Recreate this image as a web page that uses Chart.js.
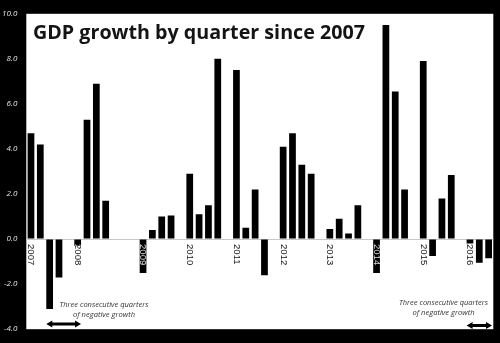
<!DOCTYPE html>
<html>
<head>
<meta charset="utf-8">
<script src="https://cdn.jsdelivr.net/npm/chart.js@4/dist/chart.umd.min.js"></script>
<style>
  html, body { margin: 0; padding: 0; background: #000; }
  canvas { display: block; }
</style>
</head>
<body>
<canvas id="gdpChart" width="500" height="343"></canvas>
<script>
// one slot per quarter, with empty slots between the years
const slotLabels = [
  "2007", "", "", "", "",
  "2008", "", "", "", "", "", "",
  "2009", "", "", "", "",
  "2010", "", "", "", "",
  "2011", "", "", "", "",
  "2012", "", "", "", "",
  "2013", "", "", "", "",
  "2014", "", "", "", "",
  "2015", "", "", "", "",
  "2016", "", "",
];
const growth = [
  4.7, 4.2, -3.1, -1.7, null,
  -0.3, 5.3, 6.9, 1.7, null, null, null,
  -1.5, 0.4, 1.0, 1.05, null,
  2.9, 1.1, 1.5, 8.0, null,
  7.5, 0.5, 2.2, -1.6, null,
  4.1, 4.7, 3.3, 2.9, null,
  0.45, 0.9, 0.25, 1.5, null,
  -1.5, 9.5, 6.55, 2.2, null,
  7.9, -0.75, 1.8, 2.85, null,
  -0.2, -1.05, -0.85,
];
const yTicks = [-4, -2, 0, 2, 4, 6, 8, 10];
const titleText = "GDP growth by quarter since 2007";
const noteLines = ["Three consecutive quarters", "of negative growth"];
// first and last slot of each negative run
const negativeRuns = [[2, 5], [47, 49]];

const backdrop = {
  id: "backdrop",
  beforeDraw(chart) {
    const { ctx, chartArea: a } = chart;
    ctx.save();
    ctx.fillStyle = "#000";
    ctx.fillRect(0, 0, chart.width, chart.height);
    ctx.fillStyle = "#fff";
    ctx.fillRect(a.left, a.top, a.right - a.left, a.bottom - a.top);
    ctx.restore();
  },
};

function arrow(ctx, x1, x2, y) {
  const h = 5;
  ctx.beginPath();
  ctx.moveTo(x1 + h, y);
  ctx.lineTo(x2 - h, y);
  ctx.lineWidth = 3;
  ctx.stroke();
  ctx.beginPath();
  ctx.moveTo(x1, y);
  ctx.lineTo(x1 + h + 1, y - 3.5);
  ctx.lineTo(x1 + h + 1, y + 3.5);
  ctx.closePath();
  ctx.moveTo(x2, y);
  ctx.lineTo(x2 - h - 1, y - 3.5);
  ctx.lineTo(x2 - h - 1, y + 3.5);
  ctx.closePath();
  ctx.fill();
}

const annotations = {
  id: "annotations",
  afterDatasetsDraw(chart) {
    const { ctx, scales } = chart;
    const x = scales.x, y = scales.y;
    const zero = y.getPixelForValue(0);
    const half = x.width / slotLabels.length * 0.36;

    // year labels, inverted where they cross a bar
    ctx.save();
    ctx.globalCompositeOperation = "difference";
    ctx.fillStyle = "#dcdcdc";
    ctx.font = '9.5px "Liberation Sans"';
    ctx.textAlign = "left";
    ctx.textBaseline = "middle";
    slotLabels.forEach((lab, i) => {
      if (!lab) return;
      ctx.save();
      ctx.translate(x.getPixelForValue(i), zero + 5);
      ctx.rotate(Math.PI / 2);
      ctx.fillText(lab, 0, 0);
      ctx.restore();
    });
    ctx.restore();

    // title
    ctx.save();
    ctx.fillStyle = "#141414";
    ctx.font = 'bold 20px "Open Sans"';
    ctx.textBaseline = "alphabetic";
    ctx.fillText(titleText, 33, 39, 332);
    ctx.restore();

    // notes and arrows
    ctx.save();
    ctx.fillStyle = "#333";
    ctx.strokeStyle = "#000";
    ctx.font = 'italic 8px "Open Sans"';
    ctx.textAlign = "center";
    const textPos = [[104, 307], [443.5, 305]];
    negativeRuns.forEach((run, k) => {
      const [tx, ty] = textPos[k];
      ctx.fillStyle = "#333";
      ctx.fillText(noteLines[0], tx, ty, 89);
      ctx.fillText(noteLines[1], tx, ty + 10, 62);
      ctx.fillStyle = "#000";
      const x1 = x.getPixelForValue(run[0]) - half;
      const x2 = x.getPixelForValue(run[1]) + half;
      arrow(ctx, x1, x2, k === 0 ? 324 : 325.5);
    });
    ctx.restore();
  },
};

new Chart(document.getElementById("gdpChart"), {
  type: "bar",
  data: {
    labels: slotLabels,
    datasets: [
      {
        data: growth,
        backgroundColor: "#000",
        borderWidth: 0,
        barPercentage: 0.72,
        categoryPercentage: 1,
      },
    ],
  },
  options: {
    responsive: false,
    animation: false,
    devicePixelRatio: 1,
    layout: { padding: { left: 0, top: 6, right: 6.7, bottom: 9.7 } },
    scales: {
      x: { display: false },
      y: {
        min: -4,
        max: 10,
        afterFit: (s) => { s.width = 26.3; },
        afterBuildTicks: (s) => { s.ticks = yTicks.map((v) => ({ value: v })); },
        ticks: {
          padding: 9,
          color: "#e6e6e6",
          font: { family: "Open Sans", size: 8, style: "italic" },
          callback: (v) => v.toFixed(1),
        },
        grid: {
          drawTicks: false,
          color: (c) => (c.tick && c.tick.value === 0 ? "#c8c8c8" : "rgba(0,0,0,0)"),
        },
        border: { display: false },
      },
    },
    plugins: {
      legend: { display: false },
      tooltip: { enabled: false },
    },
  },
  plugins: [backdrop, annotations],
});
</script>
</body>
</html>
